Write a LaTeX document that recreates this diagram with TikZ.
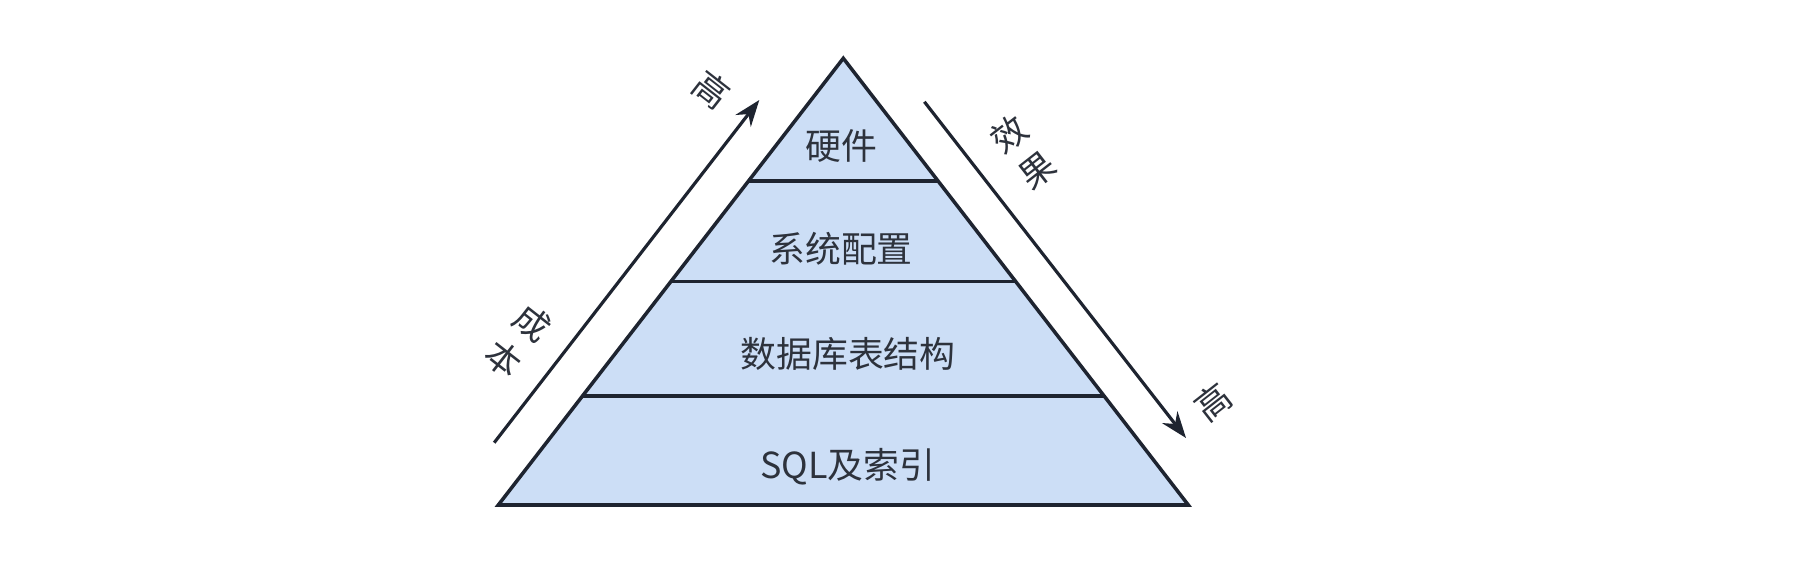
\documentclass[tikz,border=0pt]{standalone}
\usepackage{fontspec}
\setmainfont{Noto Sans CJK SC}
\usetikzlibrary{arrows.meta,calc}

\definecolor{bleuPyr}{RGB}{204,222,246}
\definecolor{traitPyr}{RGB}{30,36,48}
\definecolor{textePyr}{RGB}{45,50,60}

\begin{document}
\begin{tikzpicture}[
    niveau/.style={font=\fontsize{10.2}{12}\selectfont, text=textePyr},
    axe/.style={font=\fontsize{10}{13}\selectfont, align=center, inner sep=0pt, text=textePyr},
    fleche/.style={-{Stealth[length=7.5pt,width=5.5pt]}, line width=0.9pt, traitPyr}
]
    \fill[white] (0,0) rectangle (17.94,5.86);
    \useasboundingbox (0,0) rectangle (17.94,5.86);

    % Pyramide
    \coordinate (sommet) at (8.433,5.277);
    \coordinate (baseG) at (4.983,0.81);
    \coordinate (baseD) at (11.883,0.81);
    \draw[fill=bleuPyr, draw=traitPyr, line width=1pt] (sommet) -- (baseD) -- (baseG) -- cycle;

    % Separations des niveaux
    \foreach \t in {0.2445,0.5006,0.7258} {
        \draw[traitPyr, line width=1pt] ($(baseG)!\t!(sommet)$) -- ($(baseD)!\t!(sommet)$);
    }

    % Niveaux
    \node[niveau] (materiel) at (8.41,4.396) {硬件};
    \node[niveau] (config) at (8.41,3.377) {系统配置};
    \node[niveau] (schema) at (8.48,2.325) {数据库表结构};
    \node[niveau] (requete) at (8.48,1.192) {SQL及索引};

    % Axe cout (gauche)
    \coordinate (coutBas) at (4.942,1.433);
    \coordinate (coutHaut) at (7.593,4.86);
    \draw[fleche] (coutBas) -- (coutHaut);
    \node[axe, rotate=-38] (coutMax) at (7.12,4.96) {高};
    \node[axe, rotate=-38] (cout) at (5.18,2.45) {成\\本};

    % Axe effet (droite)
    \coordinate (effetHaut) at (9.244,4.842);
    \coordinate (effetBas) at (11.86,1.48);
    \draw[fleche] (effetHaut) -- (effetBas);
    \node[axe, rotate=38] (effet) at (10.23,4.335) {效\\果};
    \node[axe, rotate=38] (effetMax) at (12.133,1.843) {高};
\end{tikzpicture}
\end{document}
